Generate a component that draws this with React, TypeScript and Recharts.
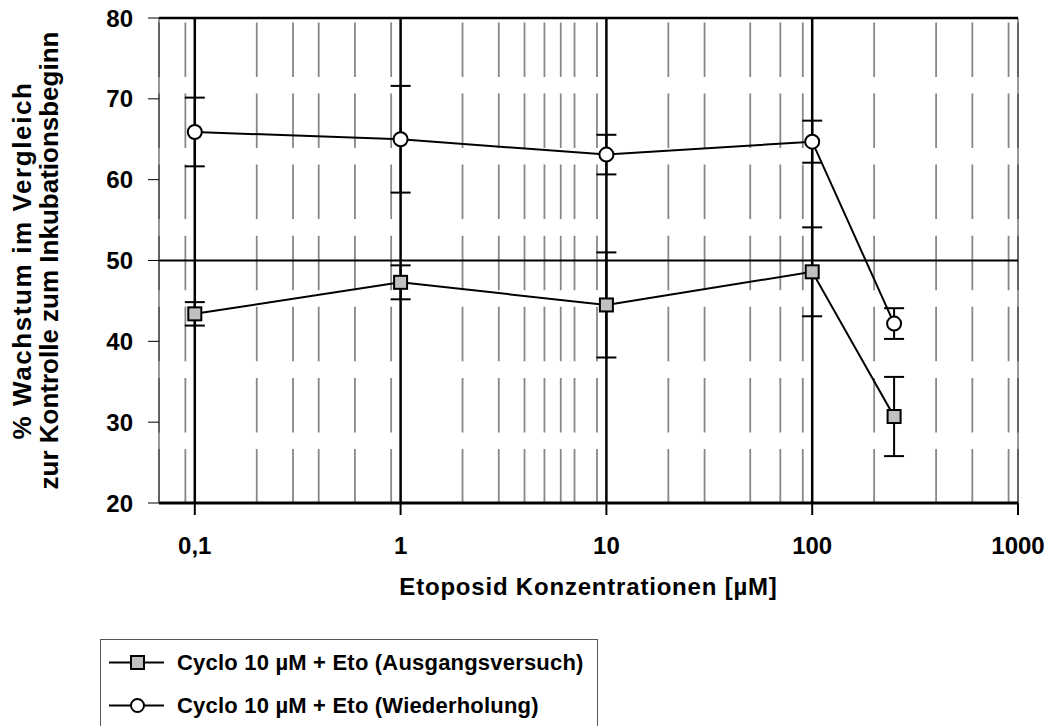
import {
  ComposedChart,
  Line,
  XAxis,
  YAxis,
  CartesianGrid,
  ReferenceLine,
  ErrorBar,
  Legend,
  Label,
} from 'recharts'

// Etoposid-Konzentrationen [µM]
const concentrations = [0.1, 1, 10, 100, 250]
// Cyclo 10 µM + Eto (Ausgangsversuch)
const ausgangMean = [43.4, 47.3, 44.5, 48.6, 30.7]
const ausgangErr = [1.45, 2.1, 6.5, 5.5, 4.9]
// Cyclo 10 µM + Eto (Wiederholung)
const wiederMean = [65.9, 65.0, 63.1, 64.7, 42.2]
const wiederErr = [4.25, 6.6, 2.45, 2.6, 1.9]

const xTicks = [0.1, 1, 10, 100, 1000]
const majorLines = [0.1, 1, 10, 100]
const minorTicks = [
  0.07, 0.08, 0.09,
  0.2, 0.3, 0.4, 0.5, 0.6, 0.7, 0.8, 0.9,
  2, 3, 4, 5, 6, 7, 8, 9,
  20, 30, 40, 50, 60, 70, 80, 90,
  200, 300, 400, 500, 600, 700, 800, 900,
]
const yTicks = [20, 30, 40, 50, 60, 70, 80]

const seriesNames = [
  'Cyclo 10 µM + Eto (Ausgangsversuch)',
  'Cyclo 10 µM + Eto (Wiederholung)',
]

const ausgang = concentrations.map((x, i) => ({ x, y: ausgangMean[i], err: ausgangErr[i] }))
const wieder = concentrations.map((x, i) => ({ x, y: wiederMean[i], err: wiederErr[i] }))

const FONT = '"Liberation Sans", Arial, Helvetica, sans-serif'
const X_DOMAIN: [number, number] = [0.067, 1000]

const SquareDot = (props: any) => {
  const { cx, cy, index } = props
  if (cx == null || cy == null) return null
  return (
    <rect
      key={`sq-${index}`}
      x={cx - 6.5}
      y={cy - 6.5}
      width={13}
      height={13}
      fill="#c0c0c0"
      stroke="#000"
      strokeWidth={2}
    />
  )
}

const LegendBox = () => (
  <div
    style={{
      width: 498,
      height: 110,
      border: '1.5px solid #555',
      boxSizing: 'border-box',
      background: '#fff',
      fontFamily: FONT,
      fontWeight: 700,
      fontSize: 22,
      color: '#000',
      paddingTop: 1,
    }}
  >
    {seriesNames.map((name, i) => (
      <div key={name} style={{ display: 'flex', alignItems: 'center', height: 43 }}>
        <svg width={76} height={43} style={{ flex: 'none' }}>
          <line x1={8} y1={21.5} x2={63} y2={21.5} stroke="#000" strokeWidth={2} />
          {i === 0 ? (
            <rect x={30} y={15} width={13} height={13} fill="#c0c0c0" stroke="#000" strokeWidth={2} />
          ) : (
            <circle cx={36.5} cy={21.5} r={6.5} fill="#fff" stroke="#000" strokeWidth={2} />
          )}
        </svg>
        <span style={{ whiteSpace: 'nowrap', letterSpacing: 0.2 }}>{name}</span>
      </div>
    ))}
  </div>
)

export default function App() {
  const tickStyle = { fontSize: 24, fontWeight: 700, fill: '#000', fontFamily: FONT }
  const titleStyle = { fontSize: 26, fontWeight: 700, fill: '#000', fontFamily: FONT, textAnchor: 'middle' as const }

  return (
    <div
      style={{
        position: 'absolute',
        left: 0,
        top: 0,
        width: 1061,
        height: 726,
        overflow: 'hidden',
        background: '#fff',
        fontFamily: FONT,
      }}
    >
      <ComposedChart width={1061} height={726} margin={{ top: 18, right: 43, bottom: 123, left: 0 }}>
        <XAxis
          xAxisId="minor"
          dataKey="x"
          type="number"
          scale="log"
          domain={X_DOMAIN}
          allowDataOverflow
          ticks={minorTicks}
          hide
        />
        <XAxis
          xAxisId="main"
          dataKey="x"
          type="number"
          scale="log"
          domain={X_DOMAIN}
          allowDataOverflow
          ticks={xTicks}
          interval={0}
          tickFormatter={(v: number) => String(v).replace('.', ',')}
          tick={tickStyle}
          tickSize={12}
          tickMargin={22}
          tickLine={{ stroke: '#000', strokeWidth: 2 }}
          axisLine={{ stroke: '#000', strokeWidth: 3 }}
          height={100}
        >
          <Label
            value="Etoposid Konzentrationen [µM]"
            position="insideBottom"
            offset={8}
            style={{ ...titleStyle, fontSize: 24, letterSpacing: 0.8 }}
          />
        </XAxis>
        <YAxis
          type="number"
          domain={[20, 80]}
          ticks={yTicks}
          interval={0}
          tick={tickStyle}
          tickSize={11}
          tickMargin={15}
          tickLine={{ stroke: '#000', strokeWidth: 1 }}
          axisLine={{ stroke: '#333', strokeWidth: 1 }}
          width={159}
        >
          <Label
            value="% Wachstum im Vergleich"
            angle={-90}
            position="insideLeft"
            offset={22}
            style={{ ...titleStyle, letterSpacing: 1.6 }}
          />
          <Label
            value="zur Kontrolle zum Inkubationsbeginn"
            angle={-90}
            position="insideLeft"
            offset={49}
            style={titleStyle}
          />
        </YAxis>

        <CartesianGrid
          xAxisId="minor"
          horizontal={false}
          stroke="#888"
          strokeWidth={1.8}
          strokeDasharray="0 4.4 54.5 12.2"
        />

        {majorLines.map((v) => (
          <ReferenceLine key={`maj-${v}`} xAxisId="main" x={v} stroke="#000" strokeWidth={2.5} />
        ))}
        <ReferenceLine xAxisId="main" x={1000} stroke="#333" strokeWidth={1} />
        <ReferenceLine xAxisId="main" y={80} stroke="#000" strokeWidth={2.5} />
        <ReferenceLine xAxisId="main" y={50} stroke="#000" strokeWidth={2.2} />

        <Line
          xAxisId="main"
          data={ausgang}
          dataKey="y"
          name={seriesNames[0]}
          stroke="#000"
          strokeWidth={2}
          dot={SquareDot}
          activeDot={false}
          isAnimationActive={false}
        >
          <ErrorBar dataKey="err" direction="y" width={10} stroke="#000" strokeWidth={2} />
        </Line>
        <Line
          xAxisId="main"
          data={wieder}
          dataKey="y"
          name={seriesNames[1]}
          stroke="#000"
          strokeWidth={2}
          dot={{ r: 7, fill: '#fff', stroke: '#000', strokeWidth: 2 }}
          activeDot={false}
          isAnimationActive={false}
        >
          <ErrorBar dataKey="err" direction="y" width={10} stroke="#000" strokeWidth={2} />
        </Line>

        <Legend
          layout="horizontal"
          verticalAlign="middle"
          align="center"
          content={LegendBox}
          wrapperStyle={{ left: 100, top: 639, width: 498 }}
        />
      </ComposedChart>
    </div>
  )
}
